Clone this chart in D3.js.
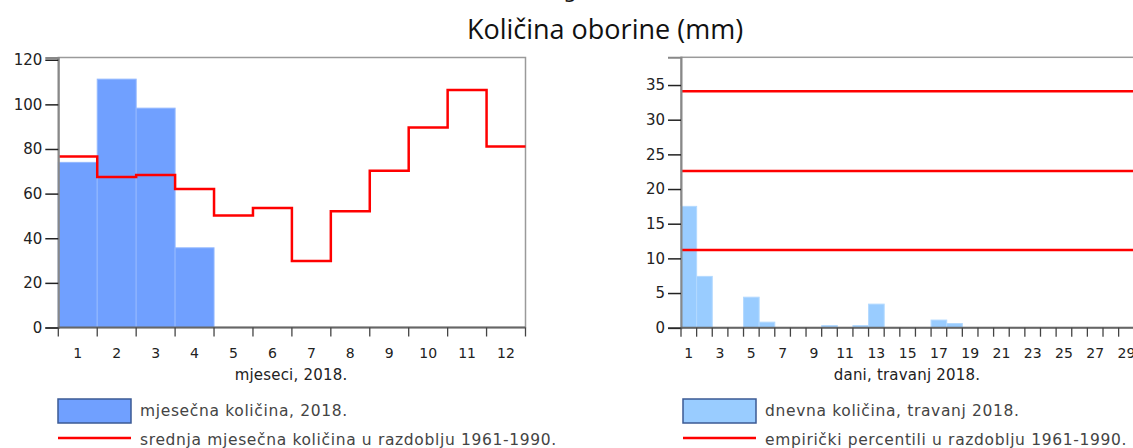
<!DOCTYPE html>
<html><head><meta charset="utf-8">
<script src="https://cdn.jsdelivr.net/npm/d3@7"></script>
<style>
body{margin:0;background:#fff;overflow:hidden}
svg{display:block}
text{font-family:"DejaVu Sans",sans-serif;}
</style></head>
<body>
<svg id="c" width="1133" height="448"></svg>
<script>
// ---- data ----
const months = [1,2,3,4,5,6,7,8,9,10,11,12];
const monthlyTotal2018 = [74, 111.3, 98.3, 35.7];           // Jan-Apr 2018
const monthlyMean6190 = [76.6, 67.5, 68.3, 62.1, 50.2, 53.5, 29.8, 52.1, 70.2, 89.6, 106.4, 81.1];
const dailyDays = [1, 2, 5, 6, 10, 12, 13, 17, 18];
const dailyValues = [17.5, 7.4, 4.4, 0.8, 0.3, 0.3, 3.4, 1.1, 0.6];
const percentiles = [11.2, 22.6, 34.1];
const leftYTicks = [0,20,40,60,80,100,120];
const rightYTicks = [0,5,10,15,20,25,30,35];
const dayLabels = [1,3,5,7,9,11,13,15,17,19,21,23,25,27,29];

const svg = d3.select("#c");

// partly visible super-title (cut at the top edge in the reference)
svg.append("text").attr("x",558).attr("y",-2).attr("text-anchor","end")
  .attr("font-family","Open Sans").attr("font-size",22).attr("fill","#111")
  .text("Križevci,");
svg.append("text").attr("x",563).attr("y",-2).attr("text-anchor","start")
  .attr("font-family","Open Sans").attr("font-size",22).attr("fill","#111")
  .text("godina 2018.");
svg.append("text").attr("x",605).attr("y",39).attr("text-anchor","middle")
  .attr("font-family","Open Sans").attr("font-size",27).attr("fill","#111")
  .style("font-family","'Open Sans'").text("Količina oborine (mm)");

function panel(opt){
  const g = svg.append("g");
  const x = d3.scaleLinear().domain([0.5, opt.n + 0.5]).range([opt.x0, opt.x1]);
  const y = d3.scaleLinear().domain([0, opt.ymax]).range([opt.yb, opt.yt]);
  // frame
  g.append("rect").attr("x",opt.x0).attr("y",opt.yt).attr("width",opt.x1-opt.x0).attr("height",opt.yb-opt.yt)
    .attr("fill","none").attr("stroke","#9a9a9a").attr("stroke-width",1.5);
  // bars
  g.append("g").selectAll("rect").data(opt.bars).join("rect")
    .attr("x",d=>x(d[0]-0.5)).attr("width",d=>x(d[0]+0.5)-x(d[0]-0.5))
    .attr("y",d=>y(d[1])).attr("height",d=>y(0)-y(d[1]))
    .attr("fill",opt.fill).attr("stroke",opt.edge).attr("stroke-width",1);
  // red lines
  opt.lines(g, x, y);
  // y axis
  const ya = d3.axisLeft(y).tickValues(opt.yticks).tickSize(opt.tick).tickPadding(3);
  const yg = g.append("g").attr("transform",`translate(${opt.x0},0)`).call(ya);
  yg.select(".domain").attr("stroke","#888").attr("stroke-width",2);
  yg.selectAll(".tick line").attr("stroke","#222").attr("stroke-width",1.5);
  yg.selectAll("text").attr("font-size",15).attr("fill","#222").attr("font-family","DejaVu Sans");
  // x axis: ticks at boundaries
  const bounds = d3.range(0, opt.n+1).map(i=>i+0.5);
  const xg = g.append("g");
  xg.append("line").attr("x1",opt.x0).attr("x2",opt.x1).attr("y1",opt.yb).attr("y2",opt.yb)
    .attr("stroke","#666").attr("stroke-width",2);
  xg.selectAll("line.t").data(bounds).join("line").attr("class","t")
    .attr("x1",d=>x(d)).attr("x2",d=>x(d)).attr("y1",opt.yb).attr("y2",opt.yb+9)
    .attr("stroke","#444").attr("stroke-width",1.3);
  xg.selectAll("text.l").data(opt.xlabels).join("text").attr("class","l")
    .attr("x",d=>x(d)).attr("y",opt.yb+30).attr("text-anchor","middle")
    .attr("font-size",14).attr("fill","#222").text(d=>d);
  g.append("text").attr("x",opt.titleX).attr("y",opt.yb+52).attr("text-anchor","middle")
    .attr("font-size",15).attr("fill","#222").attr("letter-spacing",0.2).text(opt.xtitle);
  // legend
  const lx = opt.legX;
  g.append("rect").attr("x",lx).attr("y",399).attr("width",73).attr("height",24)
    .attr("fill",opt.fill).attr("stroke","#3b5a94").attr("stroke-width",1.5);
  g.append("text").attr("x",lx+82).attr("y",416).attr("font-size",15.5).attr("letter-spacing",0.65)
    .attr("fill","#444").text(opt.leg1);
  g.append("line").attr("x1",lx).attr("x2",lx+73).attr("y1",438).attr("y2",438)
    .attr("stroke","#ff0000").attr("stroke-width",2.5);
  g.append("text").attr("x",lx+82).attr("y",445).attr("font-size",15.5).attr("letter-spacing",0.65)
    .attr("fill","#444").text(opt.leg2);
}

panel({
  n:12, x0:58.3, x1:525.5, yt:57.5, yb:327.5, ymax:121,
  bars: monthlyTotal2018.map((v,i)=>[months[i], v]),
  fill:"#70a0ff", edge:"#93b8ff",
  yticks:leftYTicks, tick:13,
  xlabels:months, xtitle:"mjeseci, 2018.", titleX:291,
  legX:58, leg1:"mjesečna količina, 2018.", leg2:"srednja mjesečna količina u razdoblju 1961-1990.",
  lines:(g,x,y)=>{
    const pts = monthlyMean6190.map((v,i)=>[months[i]-0.5, v]);
    pts.push([12.5, monthlyMean6190[11]]);
    g.append("path").datum(pts)
      .attr("d", d3.line().x(d=>x(d[0])).y(d=>y(d[1])).curve(d3.curveStepAfter))
      .attr("fill","none").attr("stroke","#ff0000").attr("stroke-width",2.5);
  }
});

panel({
  n:30, x0:681, x1:681+30*15.63, yt:57.3, yb:327.7, ymax:39,
  bars: dailyValues.map((v,i)=>[dailyDays[i], v]),
  fill:"#99ccff", edge:"#b3d9ff",
  yticks:rightYTicks, tick:13,
  xlabels:dayLabels, xtitle:"dani, travanj 2018.", titleX:907,
  legX:683, leg1:"dnevna količina, travanj 2018.", leg2:"empirički percentili u razdoblju 1961-1990.",
  lines:(g,x,y)=>{
    g.selectAll("line.p").data(percentiles).join("line").attr("class","p")
      .attr("x1",x(0.5)).attr("x2",x(30.5)).attr("y1",d=>y(d)).attr("y2",d=>y(d))
      .attr("stroke","#ff0000").attr("stroke-width",2.5);
  }
});
</script>
</body></html>
